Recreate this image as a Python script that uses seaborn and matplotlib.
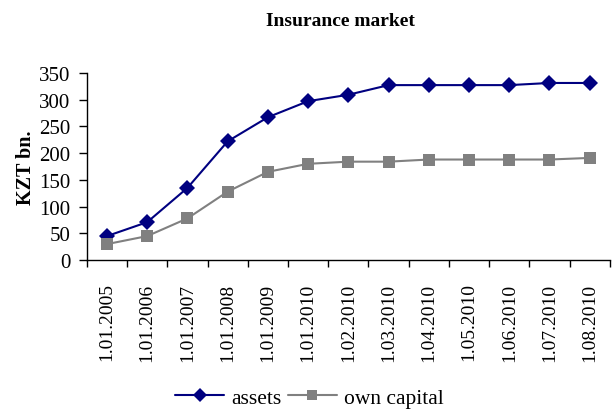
import numpy as np
import pandas as pd
import matplotlib
matplotlib.use("Agg")
import matplotlib.pyplot as plt
import seaborn as sns

DATES = ["1.01.2005", "1.01.2006", "1.01.2007", "1.01.2008", "1.01.2009",
         "1.01.2010", "1.02.2010", "1.03.2010", "1.04.2010", "1.05.2010",
         "1.06.2010", "1.07.2010", "1.08.2010"]
ASSETS = [45, 71, 135, 222, 267, 297, 309, 327, 327, 327, 327, 331, 331]
OWN_CAPITAL = [30, 45, 78, 128, 165, 180, 184, 184, 188, 188, 188, 188, 191]

sns.set_theme(style="white")
plt.rcParams["font.family"] = ["Liberation Serif", "DejaVu Serif"]
plt.rcParams.update({"text.color": "black", "axes.labelcolor": "black",
                     "xtick.color": "black", "ytick.color": "black"})

df = pd.DataFrame({
    "pos": list(range(len(DATES))) * 2,
    "value": ASSETS + OWN_CAPITAL,
    "series": ["assets"] * len(DATES) + ["own capital"] * len(DATES),
})

fig = plt.figure(figsize=(6.16, 4.10), dpi=100)
ax = fig.add_axes([0.141, 0.363, 0.849, 0.457])

sns.lineplot(data=df, x="pos", y="value", hue="series", style="series",
             palette={"assets": "#000080", "own capital": "#808080"},
             markers={"assets": "D", "own capital": "s"},
             dashes=False, markersize=8, markeredgewidth=0, linewidth=1.5,
             ax=ax)

ax.set_xlim(-0.5, len(DATES) - 0.5)
ax.set_ylim(0, 350)
ax.set_yticks(range(0, 351, 50))
ax.set_xticks(range(len(DATES)))
ax.set_xticklabels(DATES, rotation=90, fontsize=14)
ax.set_xticks(np.arange(-0.5, len(DATES), 1.0), minor=True)
ax.tick_params(axis="x", which="major", length=0, pad=16)
ax.tick_params(axis="x", which="minor", length=5, width=1, direction="out",
               bottom=True)
ax.tick_params(axis="y", length=6, width=1, direction="out", left=True,
               labelsize=15, pad=6)
for s in ["top", "right"]:
    ax.spines[s].set_visible(False)
for s in ["left", "bottom"]:
    ax.spines[s].set_color("black")
    ax.spines[s].set_linewidth(1)

ax.set_xlabel("")
ax.set_ylabel("KZT bn.", fontsize=14.5, fontweight="bold", labelpad=2)
fig.suptitle("Insurance market", x=0.553, y=0.968, fontsize=14,
             fontweight="bold")

handles, labels = ax.get_legend_handles_labels()
ax.legend(handles, labels, loc="lower center", bbox_to_anchor=(0.425, -0.835),
          ncol=2, frameon=False, fontsize=15.5, handlelength=2.3,
          markerscale=0.85, columnspacing=0.3, handletextpad=0.3,
          borderaxespad=0)

fig.savefig("out.png", dpi=100)
